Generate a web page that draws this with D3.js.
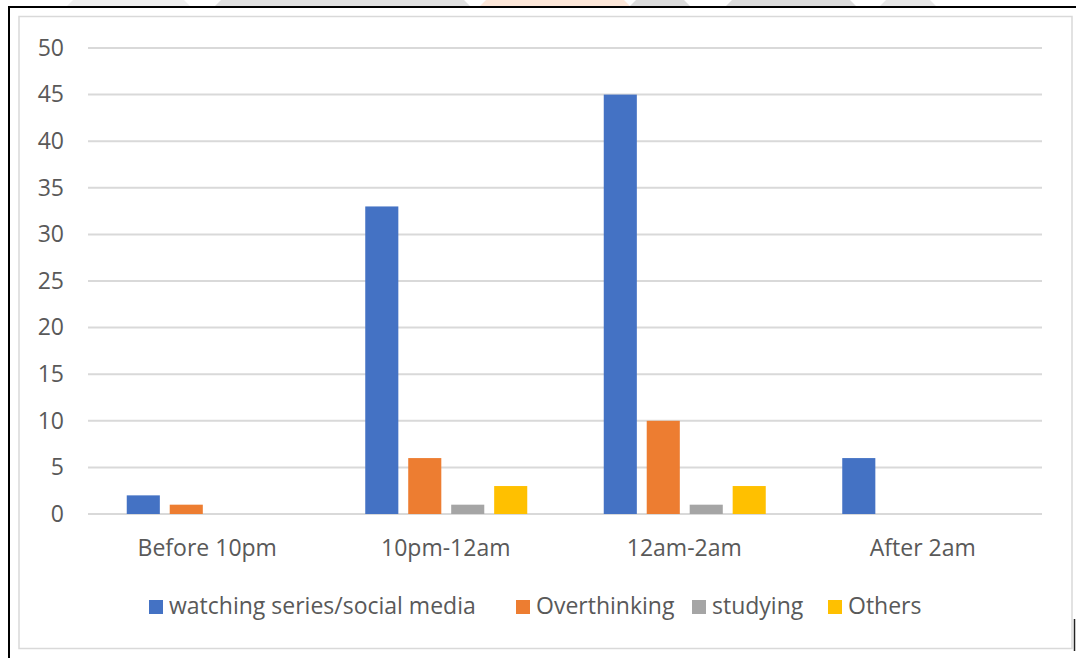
<!DOCTYPE html>
<html><head><meta charset="utf-8">
<script src="https://cdn.jsdelivr.net/npm/d3@7/dist/d3.min.js"></script>
<style>body{margin:0;background:#fff;}svg{display:block;}</style>
</head><body>
<svg id="c" width="1076" height="658"></svg>
<script>
const categories = ["Before 10pm","10pm-12am","12am-2am","After 2am"];
const seriesNames = ["watching series/social media","Overthinking","studying","Others"];
const watching = [2,33,45,6];
const overthinking = [1,6,10,0];
const studying = [0,1,1,0];
const others = [0,3,3,0];
const yTicks = [0,5,10,15,20,25,30,35,40,45,50];
const colors = ["#4472C4","#ED7D31","#A5A5A5","#FFC000"];
const seriesValues = [watching, overthinking, studying, others];

const svg = d3.select("#c");
const font = "'Open Sans', sans-serif";
const fs = 23;

// faint watermark stripes at top
const stripes = [[67,190,"#efefef"],[215,470,"#e0e0e0"],[480,630,"#fde7d9"],[630,690,"#dcdcdc"],[726,856,"#dcdcdc"],[880,936,"#e7e7e7"]];
stripes.forEach(s=>{
  svg.append("polygon").attr("points",`${s[0]+6},0 ${s[1]-6},0 ${s[1]},6 ${s[0]},6`).attr("fill",s[2]);
});

// black borders
svg.append("line").attr("x1",8).attr("x2",1076).attr("y1",7).attr("y2",7).attr("stroke","#000").attr("stroke-width",2);
svg.append("line").attr("x1",9).attr("x2",9).attr("y1",6).attr("y2",658).attr("stroke","#000").attr("stroke-width",2);
svg.append("line").attr("x1",1074.5).attr("x2",1074.5).attr("y1",619).attr("y2",651).attr("stroke","#222").attr("stroke-width",1.5);
// chart frame
svg.append("rect").attr("x",19).attr("y",16.5).attr("width",1053).attr("height",632).attr("fill","none").attr("stroke","#d9d9d9").attr("stroke-width",1.5);

const x0 = d3.scaleBand().domain(categories).range([88,1042]).paddingInner(0).paddingOuter(0);
const y = d3.scaleLinear().domain([0,50]).range([514,48]);
const x1 = d3.scaleBand().domain(d3.range(4)).range([0,162]).paddingInner(0.23).paddingOuter(0);

// gridlines
svg.append("g").selectAll("line").data(yTicks).join("line")
  .attr("x1",88).attr("x2",1042).attr("y1",d=>y(d)).attr("y2",d=>y(d))
  .attr("stroke","#d9d9d9").attr("stroke-width",2);

// y axis labels
const yAxis = d3.axisLeft(y).tickValues(yTicks).tickSize(0).tickPadding(0);
const ga = svg.append("g").attr("transform","translate(64,0)").call(yAxis);
ga.select(".domain").remove();
ga.selectAll("text").attr("font-family",font).attr("font-size",fs).attr("fill","#595959");

// bars
const groups = svg.append("g").selectAll("g").data(categories).join("g")
  .attr("transform",d=>`translate(${x0(d)+(x0.bandwidth()-162)/2+0.5},0)`);
groups.selectAll("rect").data((d,i)=>seriesValues.map((s,j)=>({j,v:s[i]}))).join("rect")
  .attr("x",d=>x1(d.j)).attr("width",x1.bandwidth())
  .attr("y",d=>y(d.v)).attr("height",d=>y(0)-y(d.v))
  .attr("fill",d=>colors[d.j]);

// x axis labels
const xAxis = d3.axisBottom(x0).tickSize(0).tickPadding(0);
const gx = svg.append("g").attr("transform","translate(0,556)").call(xAxis);
gx.select(".domain").remove();
gx.selectAll("text").attr("dy",0).attr("font-family",font).attr("font-size",fs).attr("fill","#595959");

// legend
const legX = [149,516,692,828];
const leg = svg.append("g").selectAll("g").data(seriesNames).join("g")
  .attr("transform",(d,i)=>`translate(${legX[i]},600)`);
leg.append("rect").attr("x",0).attr("y",0).attr("width",14).attr("height",14).attr("fill",(d,i)=>colors[i]);
leg.append("text").attr("x",20).attr("y",14).text(d=>d)
  .attr("font-family",font).attr("font-size",fs).attr("fill","#595959");
</script>
</body></html>
